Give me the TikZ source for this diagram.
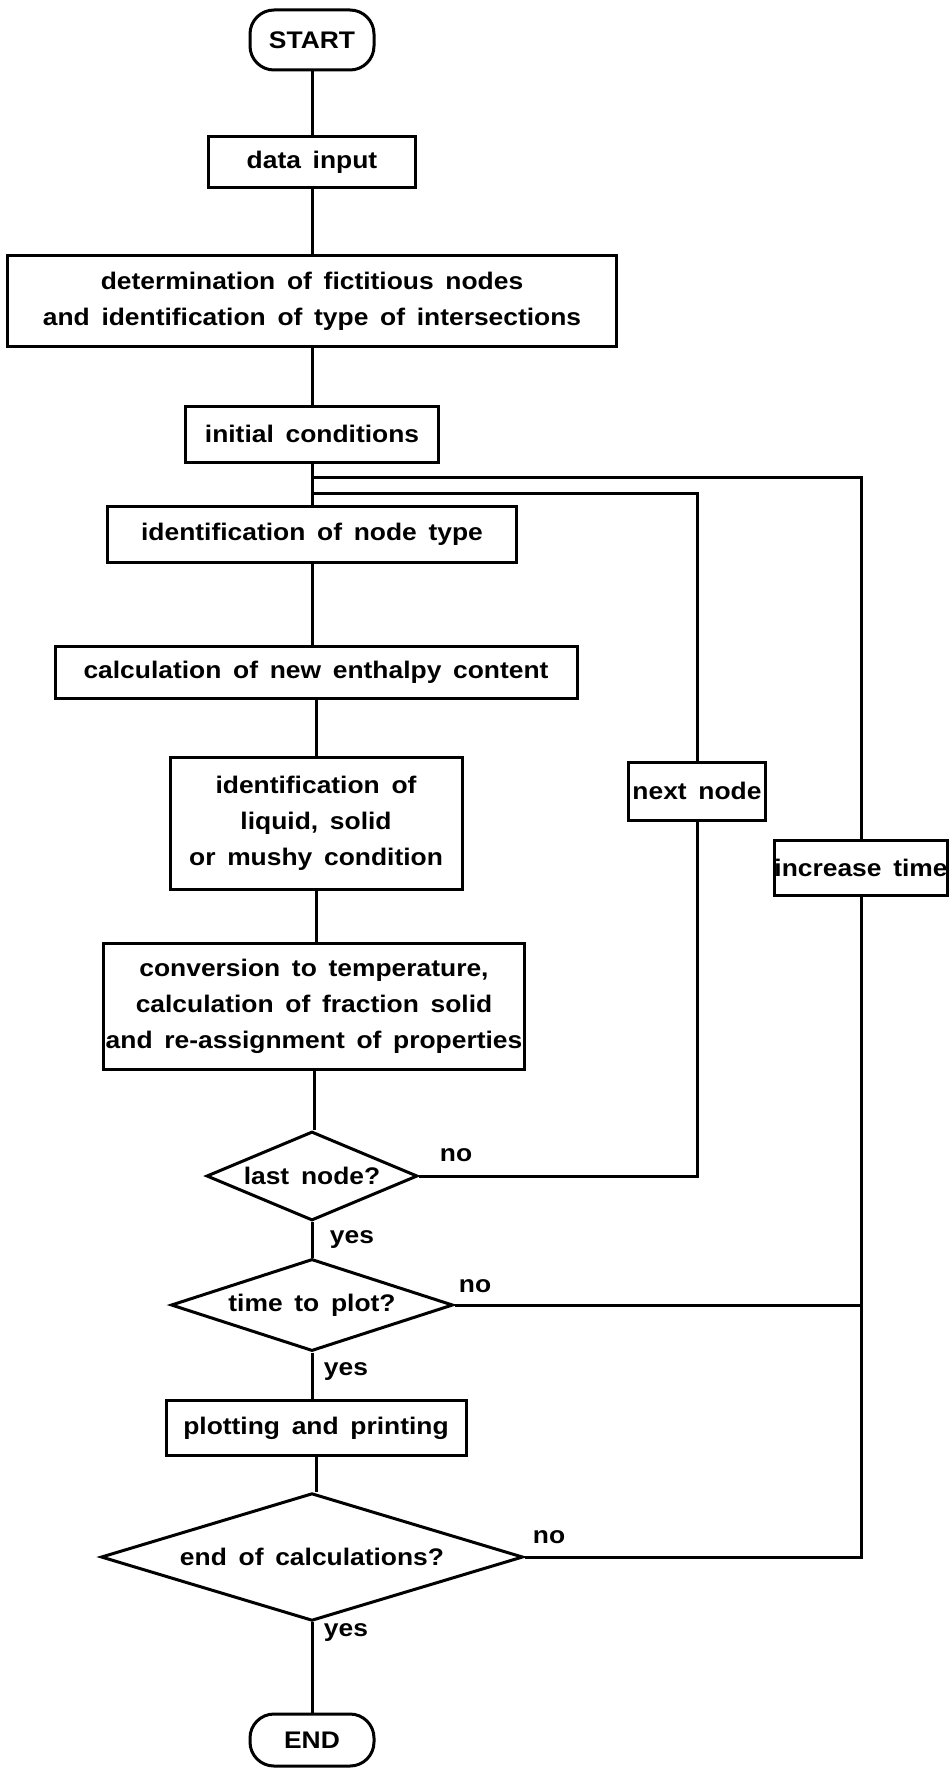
\documentclass[tikz,border=0pt]{standalone}
\usepackage{fontspec}
\setmainfont{Liberation Sans}[FakeStretch=1.1, WordSpace=1.6]
\usetikzlibrary{positioning, shapes.geometric}

\begin{document}
\begin{tikzpicture}[x=1pt, y=-1pt,
    every node/.style={font=\fontsize{24}{36}\selectfont\bfseries},
    box/.style={draw, line width=3pt, align=center, inner sep=0pt},
    term/.style={box, rounded corners=24pt},
    decide/.style={box, diamond, aspect=2.4},
    lbl/.style={inner sep=0pt},
    conn/.style={line width=3pt}]
        \useasboundingbox (0,0) rectangle (951,1769);

        % Main column
        \node[term, minimum width=124, minimum height=60] (start) at (312,40) {START};
        \node[box, minimum width=207, minimum height=51] (data) at (312,162) {data input};
        \node[box, minimum width=609, minimum height=91] (det) at (312,301)
            {determination of fictitious nodes\\and identification of type of intersections};
        \node[box, minimum width=253, minimum height=56] (init) at (312,434) {initial conditions};
        \node[box, minimum width=409, minimum height=56] (idtype) at (312,534) {identification of node type};
        \node[box, minimum width=522, minimum height=52] (enth) at (316,672) {calculation of new enthalpy content};
        \node[box, minimum width=292, minimum height=132] (liq) at (316,823)
            {identification of\\liquid, solid\\or mushy condition};
        \node[box, minimum width=421, minimum height=126] (conv) at (314,1006)
            {conversion to temperature,\\calculation of fraction solid\\and re-assignment of properties};
        \node[decide, minimum width=211, minimum height=89] (last) at (312,1176) {last node?};
        \node[decide, minimum width=282, minimum height=87] (plot) at (312,1305) {time to plot?};
        \node[box, minimum width=300, minimum height=55] (print) at (316,1428) {plotting and printing};
        \node[decide, minimum width=422, minimum height=88] (endc) at (312,1557) {end of calculations?};
        \node[term, minimum width=124, minimum height=52] (end) at (312,1740) {END};

        % Loop boxes
        \node[box, minimum width=137, minimum height=58] (next) at (697,791) {next node};
        \node[box, minimum width=171, minimum height=55] (incr) at (861,868) {increase time};

        % Branch labels
        \node[lbl] (no1) at (456,1155) {no};
        \node[lbl] (no2) at (475,1286) {no};
        \node[lbl] (no3) at (549,1537) {no};
        \node[lbl] (yes1) at (352,1240) {yes};
        \node[lbl] (yes2) at (346,1372) {yes};
        \node[lbl] (yes3) at (346,1633) {yes};

        % Main flow (straight down from each box)
        \foreach \a/\b in {start/data, data/det, det/init, init/idtype, idtype/enth,
                enth/liq, liq/conv, conv/last, last/plot, plot/print, print/endc, endc/end}
            \draw[conn] (\a.south) -- (\a.south |- \b.north);

        % Return loops
        \coordinate (jointime) at (312,477);
        \coordinate (joinnode) at (312,493);
        \draw[conn] (last.east) -| (next.south);
        \draw[conn] (next.north) |- (joinnode);
        \draw[conn] (endc.east) -| (incr.south);
        \draw[conn] (plot.east) -- (plot.east -| incr.south);
        \draw[conn] (incr.north) |- (jointime);
      \end{tikzpicture}
\end{document}
